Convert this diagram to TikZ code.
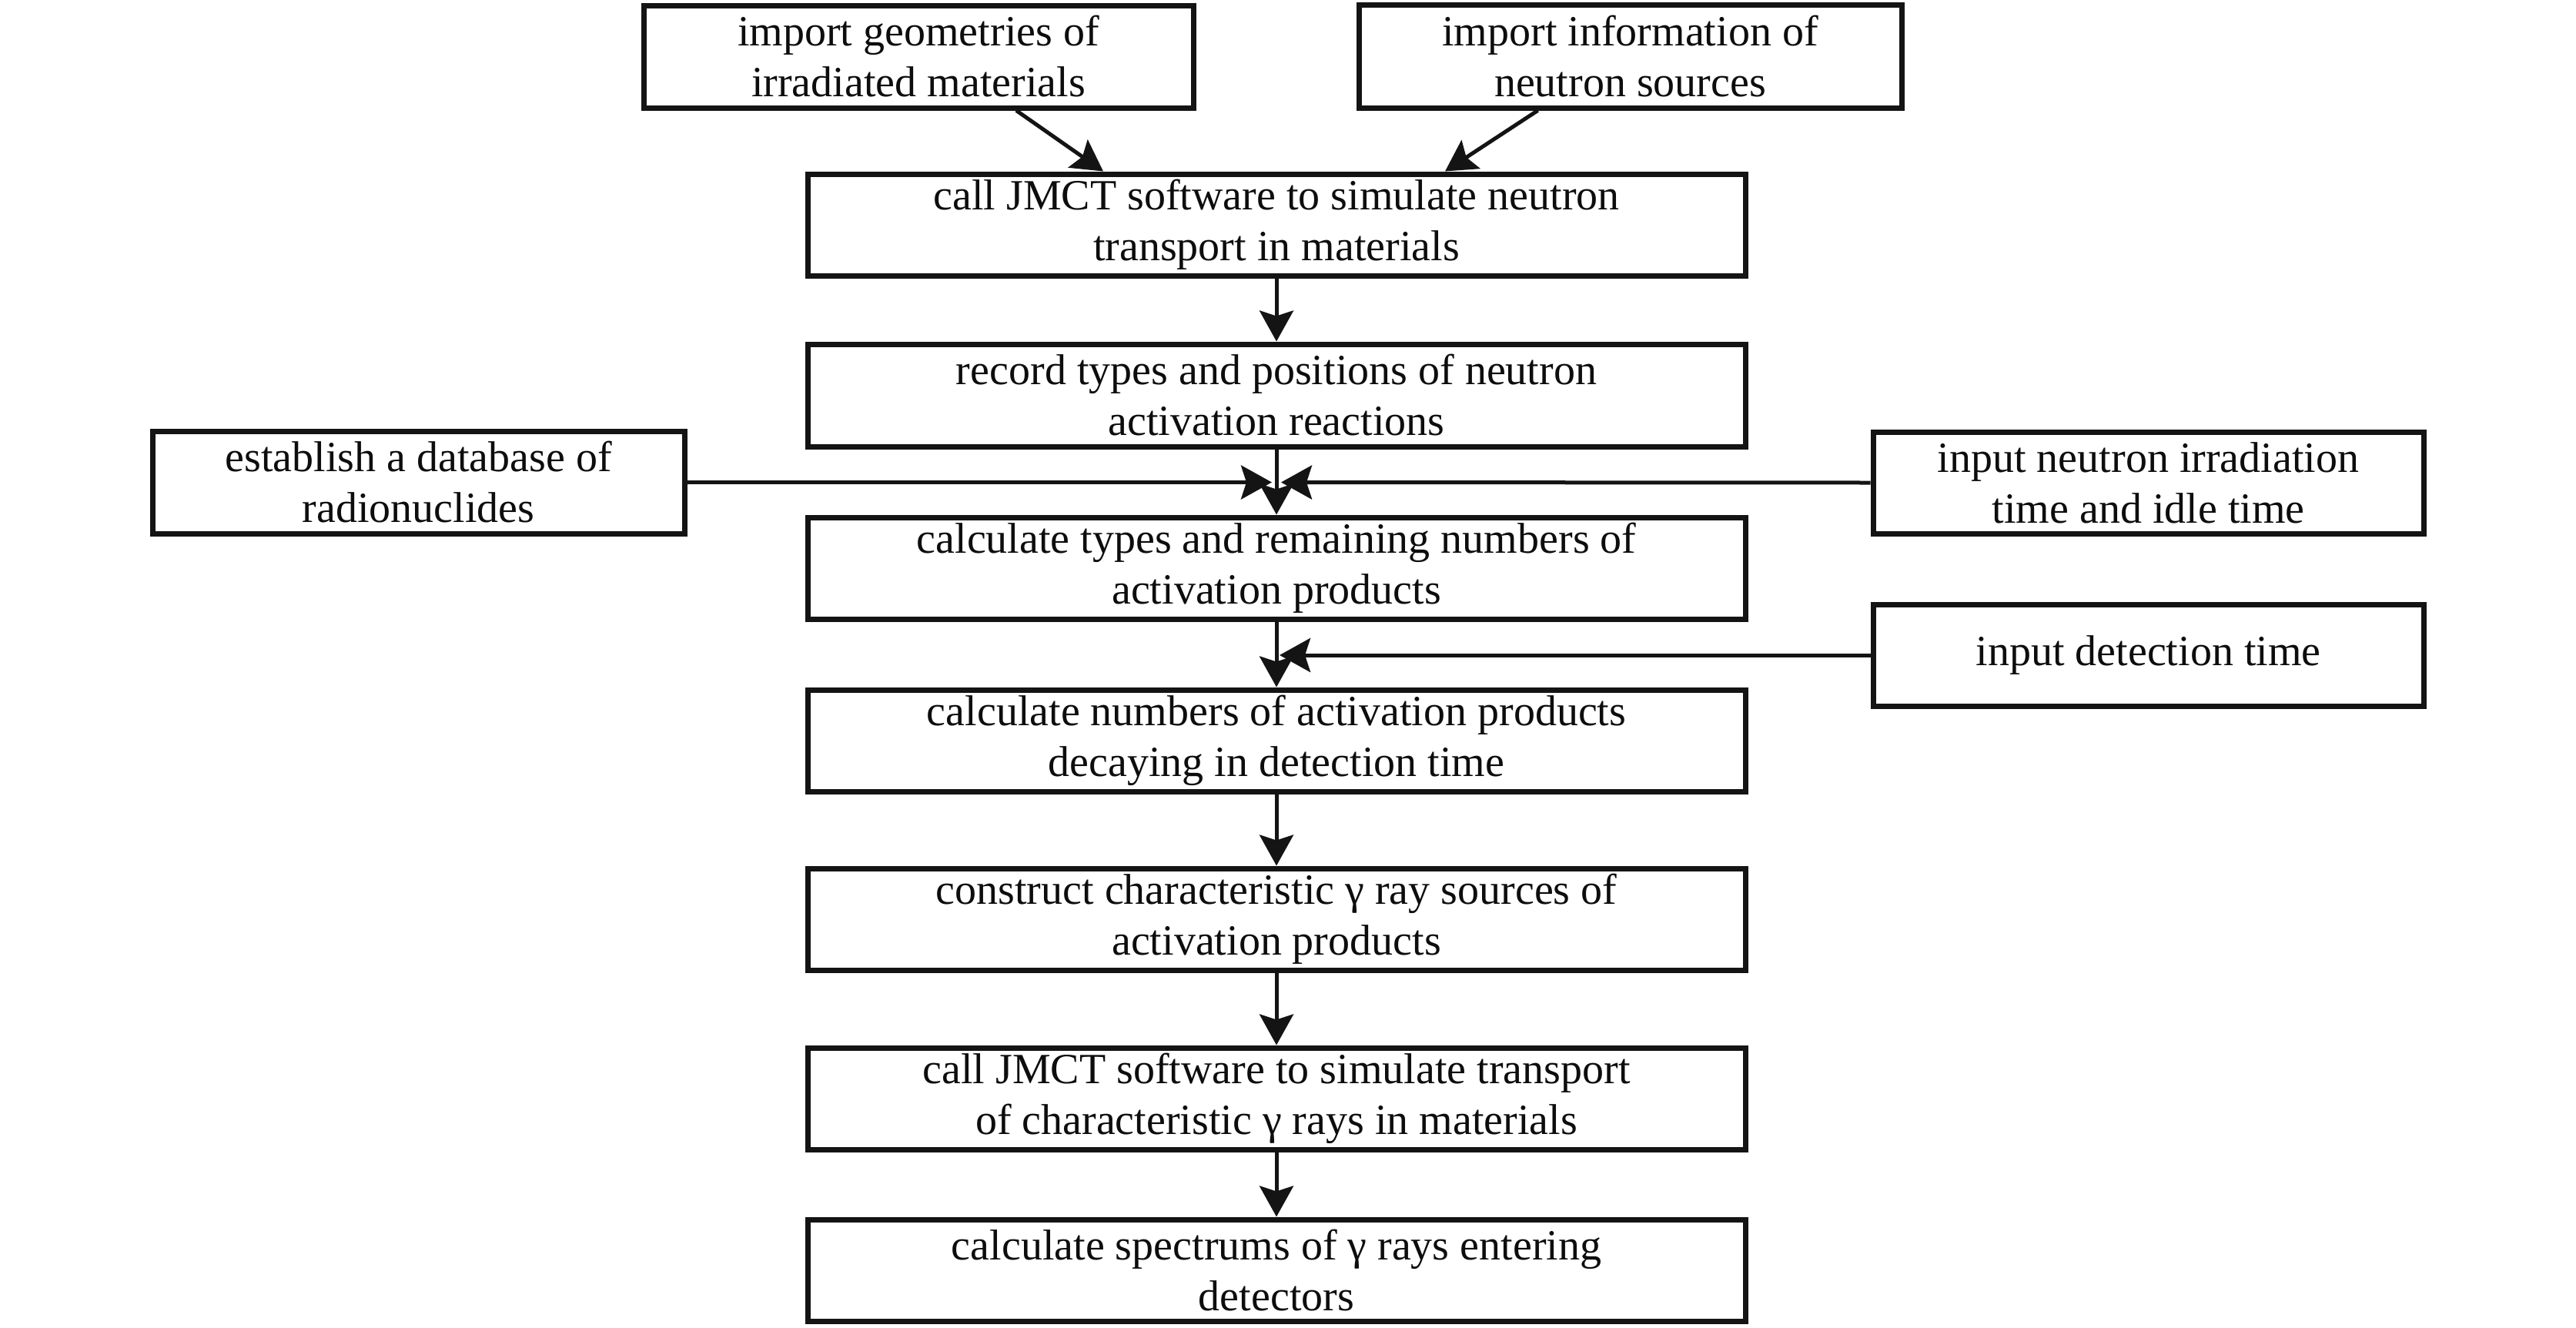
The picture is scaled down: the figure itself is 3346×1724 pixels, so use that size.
\documentclass[tikz,border=0pt]{standalone}
\usepackage{fontspec}
\setmainfont{Liberation Serif}
\usetikzlibrary{arrows.meta,calc}
\begin{document}
\begin{tikzpicture}[x=1pt,y=-1pt,
  box/.style={draw=black!92, line width=7pt, minimum height=132pt, inner sep=0pt,
    align=center, fill=white, text=black!95, font=\fontsize{56}{66}\selectfont},
  mainbox/.style={box, minimum width=1218pt},
  sidebox/.style={box, minimum width=715pt},
  conn/.style={line width=5pt, draw=black!92, -{Stealth[length=40pt,width=44pt,inset=7pt]}}]
\useasboundingbox (0,0) rectangle (3346,1724);
\fill[white] (0,0) rectangle (3346,1724);

\node[sidebox, minimum width=714pt, minimum height=133pt] (A) at (1193,73.5) {import geometries of\\irradiated materials};
\node[sidebox, minimum width=705pt, minimum height=134pt] (B) at (2117.5,73) {import information of\\neutron sources};
\node[mainbox] (C) at (1658,292) {call JMCT software to simulate neutron\\transport in materials};
\node[mainbox, minimum height=133pt] (D) at (1658,513.5) {record types and positions of neutron\\activation reactions};
\node[sidebox, minimum width=691pt, minimum height=133pt] (E) at (543.5,626.5) {establish a database of\\radionuclides};
\node[sidebox] (F) at (2790.5,627) {input neutron irradiation\\time and idle time};
\node[mainbox] (G) at (1658,738) {calculate types and remaining numbers of\\activation products};
\node[sidebox] (H) at (2790.5,851) {input detection time};
\node[mainbox] (I) at (1658,962) {calculate numbers of activation products\\decaying in detection time};
\node[mainbox] (J) at (1658,1194) {construct characteristic γ ray sources of\\activation products};
\node[mainbox] (K) at (1658,1427) {call JMCT software to simulate transport\\of characteristic γ rays in materials};
\node[mainbox] (L) at (1658,1650) {calculate spectrums of γ rays entering\\detectors};

\draw[conn] ($(A.south)+(127,0)$) -- ($(C.north)+(-225,0)$);
\draw[conn] ($(B.south)+(-120,0)$) -- ($(C.north)+(219,0)$);
\draw[conn] (C) -- (D);
\draw[conn] (D) -- (G);
\coordinate (j1) at (D.south |- E.east);
\draw[conn] (E.east) -- ($(j1)+(-6,0)$);
\draw[conn] (F.west) -- ($(j1)+(6,0)$);
\draw[conn] (G) -- (I);
\coordinate (j2) at (G.south |- H.west);
\draw[conn] (H.west) -- ($(j2)+(4,0)$);
\draw[conn] (I) -- (J);
\draw[conn] (J) -- (K);
\draw[conn] (K) -- (L);
\end{tikzpicture}
\end{document}
